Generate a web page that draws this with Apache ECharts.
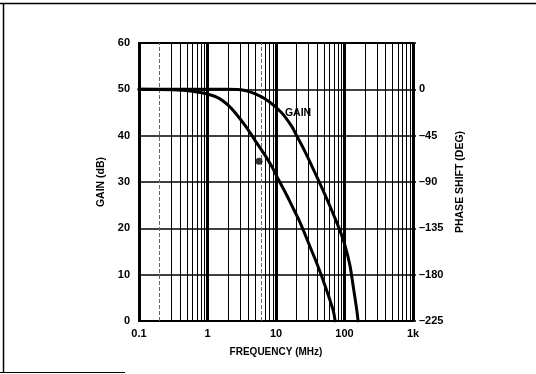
<!DOCTYPE html>
<html>
<head>
<meta charset="utf-8">
<script src="https://cdn.jsdelivr.net/npm/echarts@6/dist/echarts.min.js"></script>
<style>html,body{margin:0;padding:0;background:#fff}#c{width:536px;height:374px}</style>
</head>
<body>
<div id="c"></div>
<script>
// Gain curve (left axis, dB)
const gainFreq = [0.1, 1, 2, 3.4, 5, 7.7, 12, 17, 20, 25, 35, 49, 65, 86, 102, 120, 134, 151, 158];
const gainDb   = [50, 50, 50, 49.8, 49.0, 47.5, 45.0, 42.0, 40.0, 37.3, 32.8, 28.1, 23.9, 19.5, 16.2, 12.0, 7.5, 2.4, 0];
// Phase curve (right axis, degrees)
const phaseFreq = [0.1, 0.3, 0.6, 1, 1.5, 2.0, 2.52, 3.53, 4.94, 6.9, 8.65, 10.8, 14.3, 16.9, 22.4, 31.3, 41.5, 55, 68.6, 73];
const phaseDeg  = [0, -0.5, -1.8, -4.5, -9, -15.3, -22.5, -35.1, -49.5, -63.9, -74.7, -87.3, -102.6, -112.5, -129.2, -152.6, -172.8, -195.3, -215.1, -225];
// Single marker dot
const dotFreq = [5.65];
const dotDb = [34.5];
// Axis ticks / labels
const xTickLabels = {0.1: '0.1', 1: '1', 10: '10', 100: '100', 1000: '1k'};
const minorGrid = [0.3,0.4,0.5,0.6,0.7,0.8,0.9, 2,3,4,5,7,8,9, 20,30,40,50,60,70,80,90, 200,300,400,500,600,700,800,900];
const dashedGrid = [0.2, 6];
const gainLabel = {text: 'GAIN', freq: 21, db: 44.9};

const font = '"Liberation Sans", Arial, sans-serif';
const chart = echarts.init(document.getElementById('c'), null, {renderer: 'canvas'});
const pairs = (xs, ys) => xs.map((x, i) => [x, ys[i]]);

chart.setOption({
  animation: false,
  backgroundColor: '#fff',
  grid: {left: 139, right: 123, top: 43, bottom: 53, show: true, borderColor: '#000', borderWidth: 2, containLabel: false},
  xAxis: {
    type: 'log', logBase: 10, min: 0.1, max: 1000,
    name: 'FREQUENCY (MHz)', nameLocation: 'middle', nameGap: 26,
    nameTextStyle: {fontFamily: font, fontWeight: 'bold', fontSize: 10, color: '#000'},
    axisLine: {show: false}, axisTick: {show: false},
    axisLabel: {margin: 7, fontFamily: font, fontWeight: 'bold', fontSize: 11, color: '#000',
      formatter: v => xTickLabels[v] !== undefined ? xTickLabels[v] : (xTickLabels[+v.toPrecision(3)] || '')},
    splitLine: {show: true, lineStyle: {color: '#000', width: 3}}
  },
  yAxis: [{
    type: 'value', min: 0, max: 60, interval: 10, position: 'left',
    name: 'GAIN (dB)', nameLocation: 'middle', nameGap: 31, nameRotate: 90,
    nameTextStyle: {fontFamily: font, fontWeight: 'bold', fontSize: 10.5, color: '#000'},
    axisLine: {show: false}, axisTick: {show: false},
    axisLabel: {margin: 9, fontFamily: font, fontWeight: 'bold', fontSize: 11, color: '#000'},
    splitLine: {show: true, lineStyle: {color: '#000', width: 1.5}}
  }, {
    type: 'value', min: -225, max: 45, interval: 45, position: 'right',
    name: 'PHASE SHIFT (DEG)', nameLocation: 'middle', nameGap: 42, nameRotate: 90,
    nameTextStyle: {fontFamily: font, fontWeight: 'bold', fontSize: 10.5, color: '#000'},
    axisLine: {show: false}, axisTick: {show: true, length: 3, lineStyle: {color: '#000', width: 1.5}},
    axisLabel: {margin: 6, fontFamily: font, fontWeight: 'bold', fontSize: 11, color: '#000',
      formatter: v => v === 45 ? '' : (v < 0 ? '\u2013' + (-v) : String(v))},
    splitLine: {show: false}
  }],
  series: [{
    type: 'line', data: [], silent: true, z: 1,
    markLine: {
      silent: true, symbol: 'none', animation: false, label: {show: false},
      data: minorGrid.map(v => ({xAxis: v, lineStyle: {color: '#000', width: 1, type: 'solid'}}))
        .concat(dashedGrid.map(v => ({xAxis: v, lineStyle: {color: '#666', width: 1, type: [4, 2]}})))
    }
  }, {
    name: 'Gain', type: 'line', yAxisIndex: 0, z: 5,
    data: pairs(gainFreq, gainDb), showSymbol: false, smooth: 0.3,
    lineStyle: {color: '#000', width: 3, cap: 'round', join: 'round'},
    markPoint: {
      symbol: 'circle', symbolSize: 0, silent: true,
      data: [{coord: [gainLabel.freq, gainLabel.db], value: gainLabel.text}],
      label: {show: true, position: 'inside', formatter: gainLabel.text, fontFamily: font, fontWeight: 'bold', fontSize: 10.5, color: '#000'}
    }
  }, {
    name: 'Phase', type: 'line', yAxisIndex: 1, z: 5,
    data: pairs(phaseFreq, phaseDeg), showSymbol: false, smooth: 0.3,
    lineStyle: {color: '#000', width: 3, cap: 'round', join: 'round'}
  }, {
    name: 'Dot', type: 'scatter', yAxisIndex: 0, z: 6,
    data: pairs(dotFreq, dotDb), symbol: 'circle', symbolSize: 7,
    itemStyle: {color: '#000'}
  }],
  graphic: [
    {type: 'line', shape: {x1: 0, y1: 3.5, x2: 536, y2: 3.5}, style: {stroke: '#000', lineWidth: 1.5}},
    {type: 'line', shape: {x1: 3.5, y1: 3, x2: 3.5, y2: 372}, style: {stroke: '#000', lineWidth: 1.5}},
    {type: 'line', shape: {x1: 0, y1: 372.5, x2: 125, y2: 372.5}, style: {stroke: '#000', lineWidth: 1}}
  ]
});
</script>
</body>
</html>
